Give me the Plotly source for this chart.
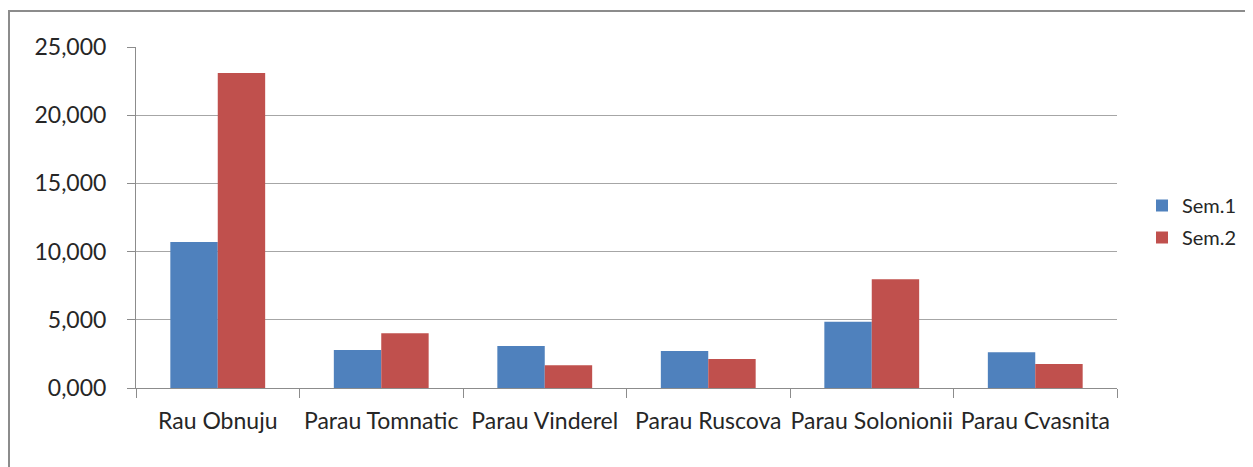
import plotly.graph_objects as go

categories = ["Rau Obnuju", "Parau Tomnatic", "Parau Vinderel", "Parau Ruscova", "Parau Solonionii", "Parau Cvasnita"]
sem1 = [10.70, 2.79, 3.08, 2.71, 4.86, 2.62]
sem2 = [23.10, 4.01, 1.66, 2.13, 7.97, 1.76]
series_names = ["Sem.1", "Sem.2"]
y_ticks = [0, 5, 10, 15, 20, 25]

OFF = 8  # page body margin
W, H = 1253 - OFF, 467 - OFF
L, T = 136 - OFF, 47 - OFF
pw, ph = 981, 341
R = W - L - pw
B = H - T - ph

FONT = "Lato"

fig = go.Figure()
fig.add_trace(go.Bar(x=categories, y=sem1, name=series_names[0], legendgroup="a",
                     marker=dict(color="#4F81BD", line=dict(width=0))))
fig.add_trace(go.Bar(x=categories, y=sem2, name=series_names[1], legendgroup="b",
                     marker=dict(color="#C0504D", line=dict(width=0))))

def px_x(p):
    return (p - OFF - L) / pw

def px_y(p):
    return (H - B - (p - OFF)) / ph

fig.update_layout(
    width=W, height=H,
    margin=dict(l=L, r=R, t=T, b=B, autoexpand=False),
    paper_bgcolor="white", plot_bgcolor="white",
    separators=", ",
    barmode="group", bargap=0.42, bargroupgap=0,
    font=dict(family=FONT, color="#262626", size=23),
    showlegend=True,
    legend=dict(x=px_x(1142), y=px_y(186), xanchor="left", yanchor="top",
                font=dict(size=20, family=FONT, color="#262626"),
                itemwidth=30, tracegroupgap=3, bgcolor="rgba(0,0,0,0)"),
    xaxis=dict(showline=True, linecolor="#8c8c8c", linewidth=1, ticks="outside",
               tickson="boundaries", ticklen=9, tickcolor="#8c8c8c", tickwidth=1,
               tickangle=0,
               tickfont=dict(size=23, family=FONT, color="#262626"), showgrid=False,
               ticklabelstandoff=12),
    yaxis=dict(range=[0, 25], tickvals=y_ticks, tickformat=".3f", showline=True,
               linecolor="#8c8c8c", linewidth=1, ticks="outside", ticklen=8,
               tickcolor="#8c8c8c", showgrid=True, gridcolor="#a6a6a6", gridwidth=1,
               zeroline=False, tickfont=dict(size=23, family=FONT, color="#262626"),
               ticklabelstandoff=16),
    shapes=[dict(type="rect", xref="paper", yref="paper",
                 x0=px_x(9), x1=px_x(1275), y0=px_y(490), y1=px_y(11),
                 line=dict(color="#8c8c8c", width=2), fillcolor="rgba(0,0,0,0)", layer="below")],
)

fig.write_html("out.html")
